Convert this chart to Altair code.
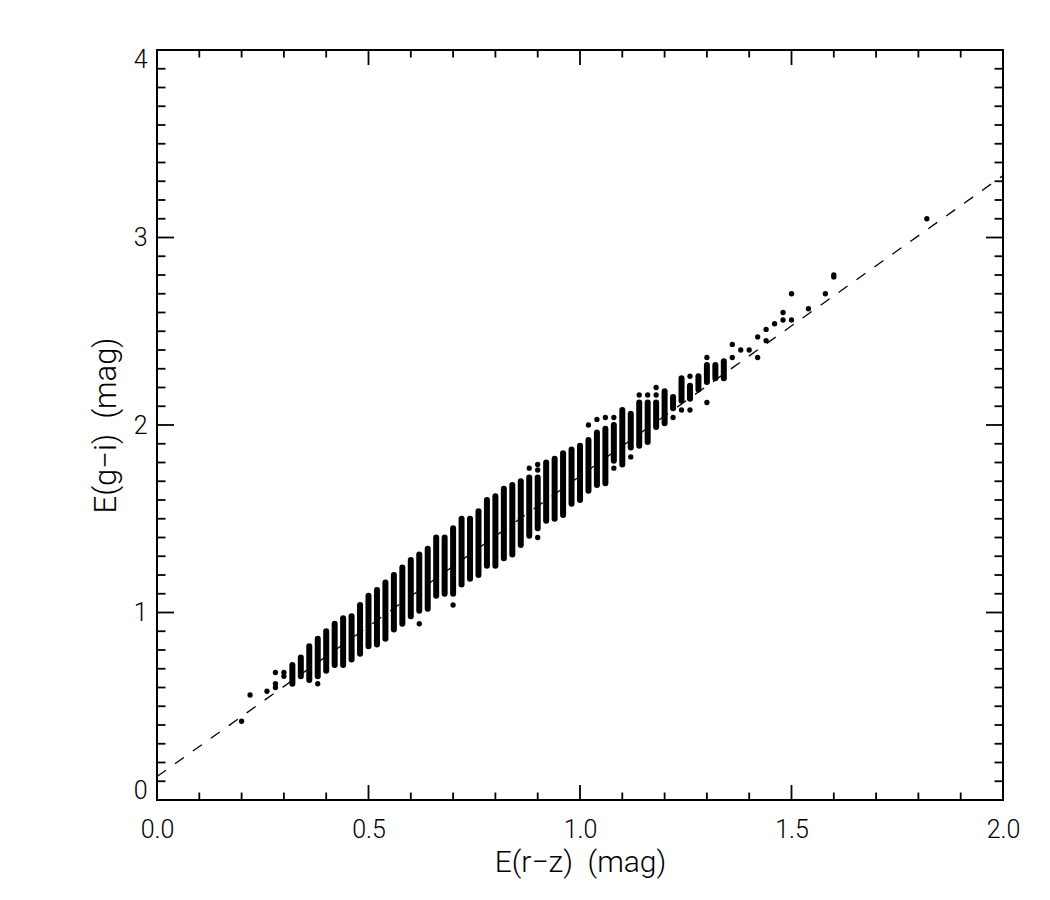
import altair as alt
import pandas as pd

# ---- data ----
# dense vertical columns of points: x, lowest and highest point centre
col_x  = [0.32, 0.34, 0.36, 0.38, 0.40, 0.42, 0.44, 0.46, 0.48, 0.50,
          0.52, 0.54, 0.56, 0.58, 0.60, 0.62, 0.64, 0.66, 0.68, 0.70,
          0.72, 0.74, 0.76, 0.78, 0.80, 0.82, 0.84, 0.86, 0.88, 0.90,
          0.92, 0.94, 0.96, 0.98, 1.00, 1.02, 1.04, 1.06, 1.08, 1.10,
          1.12, 1.14, 1.16, 1.18, 1.20, 1.22, 1.24, 1.26, 1.28, 1.30,
          1.32, 1.34]
col_lo = [0.62, 0.66, 0.64, 0.66, 0.69, 0.72, 0.72, 0.75, 0.78, 0.82,
          0.83, 0.86, 0.91, 0.94, 0.98, 1.01, 1.02, 1.09, 1.10, 1.10,
          1.15, 1.18, 1.20, 1.25, 1.25, 1.29, 1.31, 1.36, 1.41, 1.45,
          1.49, 1.50, 1.52, 1.58, 1.60, 1.65, 1.68, 1.69, 1.81, 1.79,
          1.88, 1.89, 1.91, 1.99, 2.01, 2.09, 2.13, 2.14, 2.19, 2.23,
          2.25, 2.25]
col_hi = [0.72, 0.76, 0.82, 0.86, 0.90, 0.94, 0.97, 0.98, 1.04, 1.09,
          1.12, 1.16, 1.20, 1.24, 1.28, 1.31, 1.34, 1.40, 1.40, 1.45,
          1.50, 1.50, 1.54, 1.60, 1.62, 1.66, 1.68, 1.70, 1.72, 1.72,
          1.80, 1.82, 1.85, 1.87, 1.89, 1.92, 1.96, 1.98, 2.00, 2.08,
          2.06, 2.12, 2.12, 2.12, 2.18, 2.15, 2.25, 2.21, 2.26, 2.32,
          2.32, 2.34]

# isolated points
pt_x = [0.20, 0.22, 0.26, 0.28, 0.28, 0.28, 0.30, 0.30, 0.38, 0.62,
        0.70, 0.88, 0.90, 0.90, 0.90, 1.02, 1.04, 1.06, 1.08, 1.08,
        1.12, 1.14, 1.16, 1.18, 1.18, 1.22, 1.24, 1.26, 1.26, 1.30,
        1.30, 1.36, 1.36, 1.38, 1.40, 1.42, 1.42, 1.44, 1.44, 1.46,
        1.48, 1.48, 1.50, 1.50, 1.54, 1.58, 1.60, 1.60, 1.82]
pt_y = [0.42, 0.56, 0.58, 0.68, 0.62, 0.60, 0.68, 0.66, 0.62, 0.94,
        1.04, 1.77, 1.76, 1.79, 1.40, 2.00, 2.03, 2.04, 2.04, 1.77,
        1.83, 2.16, 2.16, 2.16, 2.20, 2.04, 2.08, 2.26, 2.08, 2.12,
        2.36, 2.36, 2.43, 2.40, 2.40, 2.36, 2.47, 2.45, 2.51, 2.54,
        2.56, 2.60, 2.56, 2.70, 2.62, 2.70, 2.79, 2.80, 3.10]

# dashed fit line end points
fit_x = [0.0, 2.0]
fit_y = [0.125, 3.33]

# axis ticks
x_major = [0.0, 0.5, 1.0, 1.5, 2.0]
x_minor = [round(i * 0.1, 1) for i in range(21) if i % 5]
y_major = [0, 1, 2, 3, 4]
y_minor = [round(i * 0.1, 1) for i in range(41) if i % 10]

W, H = 846, 750
FONT = "Roboto"
WEIGHT = 300

cols = pd.DataFrame({"x": col_x, "lo": col_lo, "hi": col_hi})
pts = pd.DataFrame({"x": pt_x, "y": pt_y})
fit = pd.DataFrame({"x": fit_x, "y": fit_y})

xs = alt.Scale(domain=[0, 2], nice=False, zero=False)
ys = alt.Scale(domain=[0, 4], nice=False, zero=False)

x_axis = alt.Axis(values=x_major, format=".1f", ticks=False, domain=False, grid=False,
                  labelFont=FONT, labelFontSize=25, labelFontWeight=WEIGHT,
                  labelColor="black", labelPadding=17, labelFlush=False,
                  titleFont=FONT, titleFontSize=30, titleFontWeight=WEIGHT,
                  titleColor="black", titlePadding=5)
y_axis = alt.Axis(values=y_major, format="d", ticks=False, domain=False, grid=False,
                  labelFont=FONT, labelFontSize=25, labelFontWeight=WEIGHT,
                  labelColor="black", labelPadding=10, labelFlush=True, labelFlushOffset=3,
                  titleFont=FONT, titleFontSize=31, titleFontWeight=WEIGHT,
                  titleColor="black", titlePadding=11)

columns = alt.Chart(cols).mark_rule(color="black", strokeWidth=6, strokeCap="round").encode(
    x=alt.X("x:Q", scale=xs, axis=x_axis, title="E(r\u2212z)\u00a0\u00a0(mag)"),
    y=alt.Y("lo:Q", scale=ys, axis=y_axis, title="E(g\u2212i)\u00a0\u00a0(mag)"),
    y2="hi:Q",
)

points = alt.Chart(pts).mark_circle(color="black", size=28, opacity=1).encode(
    x=alt.X("x:Q", scale=xs),
    y=alt.Y("y:Q", scale=ys),
)

line = alt.Chart(fit).mark_line(color="black", strokeWidth=1.3, strokeDash=[11, 11]).encode(
    x=alt.X("x:Q", scale=xs),
    y=alt.Y("y:Q", scale=ys),
)


def xticks(vals, length):
    d = pd.DataFrame({"v": vals})
    base = alt.Chart(d).mark_rule(color="black", strokeWidth=1.8)
    bottom = base.encode(x=alt.X("v:Q", scale=xs),
                         y=alt.value(H), y2=alt.value(H - length))
    top = base.encode(x=alt.X("v:Q", scale=xs),
                      y=alt.value(0), y2=alt.value(length))
    return [bottom, top]


def yticks(vals, length):
    d = pd.DataFrame({"v": vals})
    base = alt.Chart(d).mark_rule(color="black", strokeWidth=1.8)
    left = base.encode(y=alt.Y("v:Q", scale=ys),
                       x=alt.value(0), x2=alt.value(length))
    right = base.encode(y=alt.Y("v:Q", scale=ys),
                        x=alt.value(W), x2=alt.value(W - length))
    return [left, right]


tick_layers = xticks(x_major, 15) + xticks(x_minor, 7.5) + yticks(y_major, 17) + yticks(y_minor, 8.5)

chart = alt.layer(columns, points, line, *tick_layers).properties(
    width=W, height=H,
    padding={"left": 157, "top": 50, "right": 47, "bottom": 100},
    autosize=alt.AutoSizeParams(type="none"),
    background="white",
).configure_view(stroke="black", strokeWidth=2)

chart.save("out.html", embed_options={"renderer": "svg", "actions": False})
